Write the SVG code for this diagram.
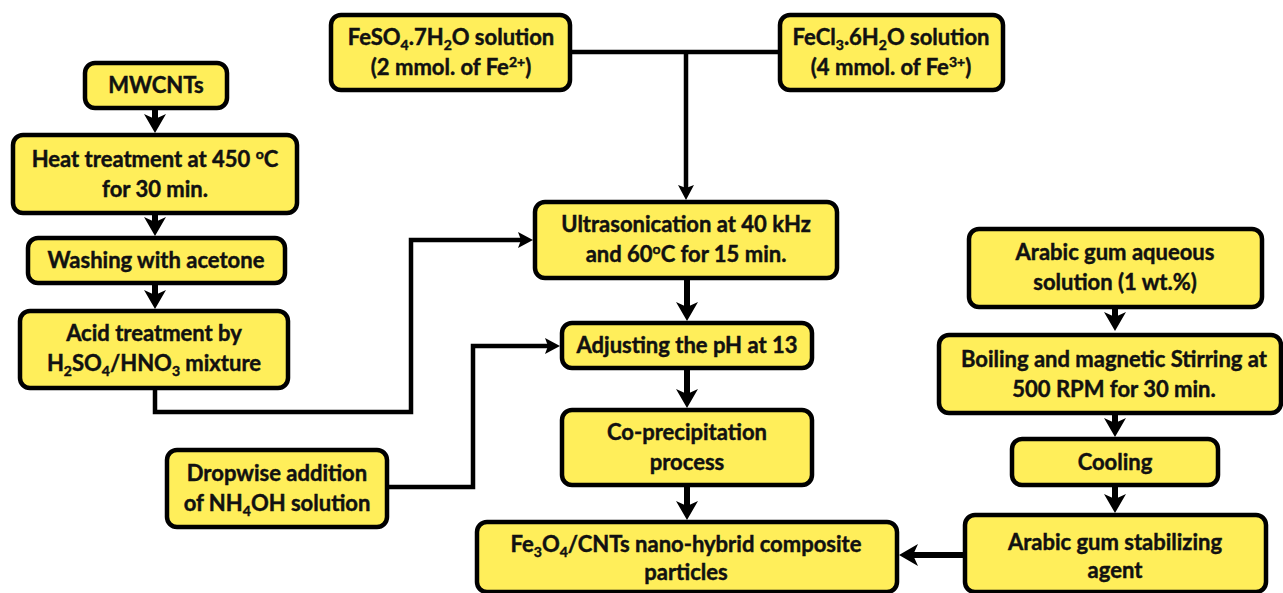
<svg xmlns="http://www.w3.org/2000/svg" width="1283" height="593" viewBox="0 0 1283 593">
<style>
.box{fill:#FFEE5A;stroke:#000;stroke-width:4.5}
.t{font-family:Lato,"Noto Sans",sans-serif;font-weight:bold;font-size:22px;fill:#111;stroke:#111;stroke-width:0.45;text-anchor:middle}
.s{font-size:14px}
.thin{fill:none;stroke:#000;stroke-width:4.5;stroke-linejoin:miter}
.thick{fill:none;stroke:#000;stroke-width:6}
</style>
<defs>
<marker id="ah" markerUnits="userSpaceOnUse" markerWidth="20" markerHeight="20" viewBox="0 -10 20 20" refX="4" refY="0" orient="auto">
<path d="M0,-8 L15,0 L0,8 L3,0 Z" fill="#000"/>
</marker>
<marker id="ahk" markerUnits="userSpaceOnUse" markerWidth="24" markerHeight="26" viewBox="0 -12 24 24" refX="6" refY="0" orient="auto">
<path d="M0,-11 L19,0 L0,11 L5,0 Z" fill="#000"/>
</marker>
</defs>
<rect width="1283" height="593" fill="#fff"/>
<g id="connectors">
<path class="thin" d="M570,52 H780"/>
<path class="thin" d="M686,52 V189" marker-end="url(#ah)"/>
<path class="thin" d="M155,388 V412 H411 V240 H522" marker-end="url(#ah)"/>
<path class="thin" d="M387,487 H473 V346 H549" marker-end="url(#ah)"/>
<path class="thick" d="M155,108 V120" marker-end="url(#ahk)"/>
<path class="thick" d="M155,213 V223" marker-end="url(#ahk)"/>
<path class="thick" d="M155,283 V296" marker-end="url(#ahk)"/>
<path class="thick" d="M687,278 V308" marker-end="url(#ahk)"/>
<path class="thick" d="M687,368 V395" marker-end="url(#ahk)"/>
<path class="thick" d="M687,485 V507" marker-end="url(#ahk)"/>
<path class="thick" d="M1115,307 V318" marker-end="url(#ahk)"/>
<path class="thick" d="M1115,413 V424" marker-end="url(#ahk)"/>
<path class="thick" d="M1115,485 V500" marker-end="url(#ahk)"/>
<path class="thick" d="M965,555 H912" marker-end="url(#ahk)"/>
</g>
<g id="mwcnts"><rect class="box" x="85" y="63" width="142" height="45" rx="10"/>
<text class="t" x="156" y="93">MWCNTs</text></g>
<g id="heat"><rect class="box" x="13" y="135" width="284" height="78" rx="10"/>
<text class="t" x="155" y="167">Heat treatment at 450 <tspan class="s" dy="-8">o</tspan><tspan dy="8">C</tspan></text>
<text class="t" x="155" y="197">for 30 min.</text></g>
<g id="washing"><rect class="box" x="28" y="238" width="257" height="45" rx="10"/>
<text class="t" x="156" y="268">Washing with acetone</text></g>
<g id="acid"><rect class="box" x="20" y="311" width="268" height="77" rx="10"/>
<text class="t" x="154" y="341">Acid treatment by</text>
<text class="t" x="154" y="371">H<tspan class="s" dy="5">2</tspan><tspan dy="-5">SO</tspan><tspan class="s" dy="5">4</tspan><tspan dy="-5">/HNO</tspan><tspan class="s" dy="5">3</tspan><tspan dy="-5"> mixture</tspan></text></g>
<g id="dropwise"><rect class="box" x="167" y="450" width="220" height="77" rx="10"/>
<text class="t" x="277" y="481">Dropwise addition</text>
<text class="t" x="277" y="511">of NH<tspan class="s" dy="5">4</tspan><tspan dy="-5">OH solution</tspan></text></g>
<g id="feso4"><rect class="box" x="331" y="15" width="239" height="75" rx="10"/>
<text class="t" x="451" y="45">FeSO<tspan class="s" dy="5">4</tspan><tspan dy="-5">.7H</tspan><tspan class="s" dy="5">2</tspan><tspan dy="-5">O solution</tspan></text>
<text class="t" x="451" y="75">(2 mmol. of Fe<tspan class="s" dy="-8">2+</tspan><tspan dy="8">)</tspan></text></g>
<g id="fecl3"><rect class="box" x="780" y="15" width="223" height="75" rx="10"/>
<text class="t" x="891" y="45">FeCl<tspan class="s" dy="5">3</tspan><tspan dy="-5">.6H</tspan><tspan class="s" dy="5">2</tspan><tspan dy="-5">O solution</tspan></text>
<text class="t" x="891" y="75">(4 mmol. of Fe<tspan class="s" dy="-8">3+</tspan><tspan dy="8">)</tspan></text></g>
<g id="ultra"><rect class="box" x="535" y="202" width="302" height="76" rx="10"/>
<text class="t" x="686" y="232">Ultrasonication at 40 kHz</text>
<text class="t" x="686" y="262">and 60<tspan class="s" dy="-8">o</tspan><tspan dy="8">C for 15 min.</tspan></text></g>
<g id="adjust"><rect class="box" x="562" y="323" width="250" height="45" rx="10"/>
<text class="t" x="687" y="353">Adjusting the pH at 13</text></g>
<g id="coprec"><rect class="box" x="562" y="410" width="250" height="75" rx="10"/>
<text class="t" x="687" y="440">Co-precipitation</text>
<text class="t" x="687" y="470">process</text></g>
<g id="product"><rect class="box" x="477" y="522" width="420" height="70" rx="10"/>
<text class="t" x="686" y="552">Fe<tspan class="s" dy="5">3</tspan><tspan dy="-5">O</tspan><tspan class="s" dy="5">4</tspan><tspan dy="-5">/CNTs nano-hybrid composite</tspan></text>
<text class="t" x="686" y="580">particles</text></g>
<g id="gum"><rect class="box" x="969" y="229" width="293" height="78" rx="10"/>
<text class="t" x="1115" y="260">Arabic gum aqueous</text>
<text class="t" x="1115" y="290">solution (1 wt.%)</text></g>
<g id="boiling"><rect class="box" x="939" y="335" width="342" height="78" rx="10"/>
<text class="t" x="1114" y="367">Boiling and magnetic Stirring at</text>
<text class="t" x="1114" y="397">500 RPM for 30 min.</text></g>
<g id="cooling"><rect class="box" x="1012" y="439" width="206" height="46" rx="10"/>
<text class="t" x="1115" y="470">Cooling</text></g>
<g id="stab"><rect class="box" x="965" y="515" width="301" height="77" rx="10"/>
<text class="t" x="1115" y="550">Arabic gum stabilizing</text>
<text class="t" x="1115" y="578">agent</text></g>
</svg>
